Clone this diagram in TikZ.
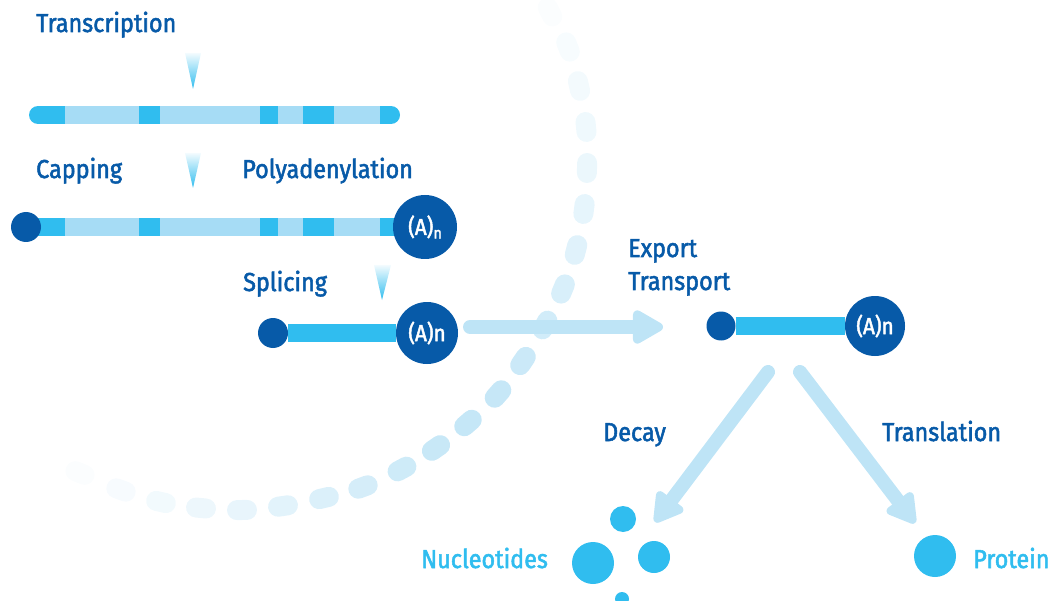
\documentclass[tikz,border=0pt]{standalone}
\usepackage{fontspec}
\usetikzlibrary{arrows.meta}
\newfontfamily\labfont{Fira Sans}[FakeStretch=0.9, FakeBold=2]

\definecolor{navy}{RGB}{7,90,168}
\definecolor{skyA}{RGB}{48,189,239}
\definecolor{skyB}{RGB}{166,220,245}
\definecolor{pale}{RGB}{190,228,246}

\tikzset{
  label/.style={anchor=base west, inner sep=0pt, text=navy, font=\labfont\fontsize{26}{30}\selectfont},
  endlabel/.style={label, text=skyA},
  capdot/.style={circle, fill=navy, inner sep=0pt, minimum size=#1},
  polyA/.style={circle, fill=navy, inner sep=0pt, minimum size=#1, text=white,
                font=\labfont\fontsize{23}{25}\selectfont},
  tail/.style={draw=skyA, line width=18pt},
  flow/.style={draw=pale, line width=14pt, line cap=round,
               -{Triangle[length=35pt, width=37pt, round]}},
  pointer/.style={top color=skyA!6, bottom color=skyA, draw=none},
  grain/.style={circle, fill=skyA, inner sep=0pt, minimum size=#1},
  membrane/.style={line width=20pt, line cap=round},
}

\begin{document}
\begin{tikzpicture}[x=1pt, y=-1pt]
  \useasboundingbox (0,0) rectangle (1064,601);
  \clip (0,0) rectangle (1064,601);

  % nuclear envelope: fading row of rounded dashes
  \foreach \x/\y/\ux/\uy/\p in {
      550/12/0.46/0.89/6, 568/47/0.365/0.93/12, 579/86/0.22/0.975/18,
      586/127/0.1/0.995/24, 587/168/-0.02/1/30, 584/209/-0.13/0.99/38,
      576/250/-0.25/0.97/48, 563/289/-0.38/0.92/60, 545/325/-0.49/0.87/70,
      523/361/-0.56/0.83/80, 498/394/-0.66/0.75/88, 468/423/-0.75/0.65/90,
      436/448/-0.82/0.57/85, 402/469/-0.88/0.47/75, 363/487/-0.94/0.35/65,
      324/498/-0.97/0.23/55, 283/506/-0.99/0.145/45, 242/510/-1/0.02/36,
      201/508/-0.995/-0.1/28, 161/502/-0.976/-0.22/20, 121/490/-0.94/-0.34/13,
      80/473/-0.92/-0.38/6}
    \draw[membrane, draw=pale!\p!white] ({\x-5*\ux},{\y-5*\uy}) -- ({\x+5*\ux},{\y+5*\uy});

  % labels
  \node[label] (ltx) at (36,32) {Transcription};
  \node[label] (lcap) at (36,178) {Capping};
  \node[label] (lpoly) at (242,178) {Polyadenylation};
  \node[label] (lspl) at (243,291) {Splicing};
  \node[label] (lexp) at (628,257) {Export};
  \node[label] (ltrn) at (628,290) {Transport};
  \node[label] (ldec) at (603,441) {Decay};
  \node[label] (ltrl) at (882,441) {Translation};
  \node[endlabel] (lnuc) at (421,568) {Nucleotides};
  \node[endlabel] (lpro) at (973,568) {Protein};

  % step pointers
  \shade[pointer] (185,53) -- (201,53) -- (193,89) -- cycle;
  \shade[pointer] (185,153) -- (201,153) -- (193,188) -- cycle;
  \shade[pointer] (374,265) -- (391,265) -- (382,300) -- cycle;

  % primary transcript: exons and introns
  \draw[line width=18pt, line cap=round, skyA] (38,115) -- (391,115);
  \foreach \a/\b in {65/139, 160/260, 278/303, 334/380}
    \fill[skyB] (\a,106) rectangle (\b,124);

  % capped and polyadenylated transcript
  \fill[skyA] (26,218) rectangle (420,236);
  \foreach \a/\b in {65/139, 160/260, 278/303, 334/380}
    \fill[skyB] (\a,218) rectangle (\b,236);
  \node[capdot=30pt] (cap2) at (26,227) {};
  \node[polyA=64pt] (pa2) at (425,227) {(A)\raisebox{-0.3ex}{\fontsize{16}{17}\selectfont n}};

  % spliced mRNA
  \node[capdot=30pt] (cap3) at (273,333) {};
  \node[polyA=62pt] (pa3) at (427,333) {(A)n};
  \draw[tail] (cap3) -- (pa3);

  % exported mRNA
  \node[capdot=29pt] (cap4) at (721,326) {};
  \node[polyA=60pt] (pa4) at (875,326) {(A)n};
  \draw[tail] (cap4) -- (pa4);

  % export arrow
  \coordinate (exS) at (470,327);
  \coordinate (exT) at (663,327);
  \draw[flow] (exS) -- (exT);

  % decay and translation arrows
  \coordinate (fork1) at (768,372);
  \coordinate (decT) at (655,522);
  \coordinate (fork2) at (800,372);
  \coordinate (trlT) at (915,523);
  \draw[flow, -{Triangle[length=33pt, width=36pt, round]}] (fork1) -- (decT);
  \draw[flow, -{Triangle[length=33pt, width=36pt, round]}] (fork2) -- (trlT);

  % products
  \node[grain=26pt] (n1) at (623,519) {};
  \node[grain=42pt] (n2) at (593,563) {};
  \node[grain=32pt] (n3) at (654,557) {};
  \node[grain=14pt] (n4) at (622,599) {};
  \node[grain=42pt] (prot) at (935,556) {};
\end{tikzpicture}
\end{document}
